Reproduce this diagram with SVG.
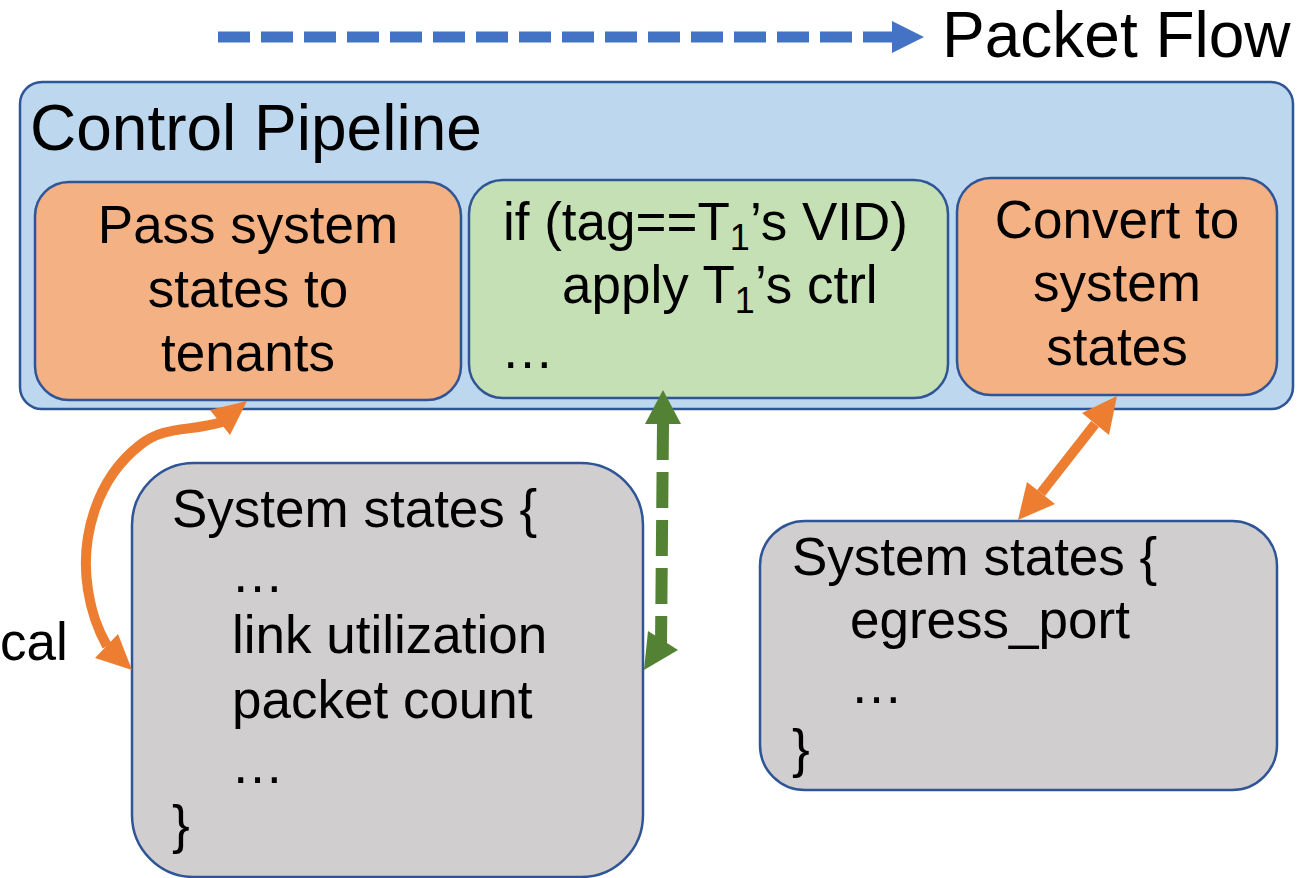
<svg xmlns="http://www.w3.org/2000/svg" width="1302" height="878" viewBox="0 0 1302 878">
<style>
  .box { stroke: #2F5597; stroke-width: 2.5; }
  .blue { fill: #BDD7EE; }
  .orange { fill: #F4B183; }
  .green { fill: #C5E0B4; }
  .gray { fill: #D0CECE; }
  text { font-family: "Liberation Sans", Arial, Helvetica, sans-serif; font-size: 53px; fill: #000; }
  .big { font-size: 64px; }
  .mid { text-anchor: middle; }
  .sub { font-size: 36px; }
</style>
<rect width="1302" height="878" fill="#FFFFFF"/>

<g id="legend">
  <line x1="218" y1="37" x2="894" y2="37" stroke="#4472C4" stroke-width="11" stroke-dasharray="32 11"/>
  <polygon points="892,21 924,37 892,53" fill="#4472C4"/>
  <text class="big" x="942" y="57">Packet Flow</text>
</g>

<g id="control-pipeline">
  <rect class="box blue" x="20" y="82" width="1273" height="327" rx="22"/>
  <text class="big" x="30" y="150">Control Pipeline</text>
</g>

<g id="pass-states">
  <rect class="box orange" x="35" y="182" width="426" height="218" rx="34"/>
  <text class="mid" x="248" y="243">Pass system</text>
  <text class="mid" x="248" y="307">states to</text>
  <text class="mid" x="248" y="371">tenants</text>
</g>

<g id="tenant-ctrl">
  <rect class="box green" x="469" y="180" width="479" height="218" rx="34"/>
  <text x="503" y="240">if (tag==T<tspan class="sub" dy="10">1</tspan><tspan dy="-10">’s VID)</tspan></text>
  <text x="562" y="303">apply T<tspan class="sub" dy="10">1</tspan><tspan dy="-10">’s ctrl</tspan></text>
  <text x="501" y="368">…</text>
</g>

<g id="convert-states">
  <rect class="box orange" x="957" y="178" width="320" height="217" rx="34"/>
  <text class="mid" x="1117" y="238">Convert to</text>
  <text class="mid" x="1117" y="301">system</text>
  <text class="mid" x="1117" y="365">states</text>
</g>

<g id="states-left">
  <rect class="box gray" x="132" y="463" width="511" height="414" rx="62"/>
  <text x="172" y="527">System states {</text>
  <text x="231" y="592">…</text>
  <text x="232" y="653">link utilization</text>
  <text x="232" y="718">packet count</text>
  <text x="231" y="783">…</text>
  <text x="172" y="843">}</text>
</g>

<g id="states-right">
  <rect class="box gray" x="760" y="521" width="517" height="269" rx="45"/>
  <text x="792" y="575">System states {</text>
  <text x="850" y="638">egress_port</text>
  <text x="850" y="703">…</text>
  <text x="792" y="767">}</text>
</g>

<g id="side-label">
  <text x="0" y="660">cal</text>
</g>

<g id="connectors">
  <path d="M 222,422 C 190,432 165,425 140,445 C 95,480 80,540 88,590 C 92,615 98,630 107,646" fill="none" stroke="#ED7D31" stroke-width="10"/>
  <polygon points="247,401 210,410 230,435" fill="#ED7D31"/>
  <polygon points="132,670 95,658 118,634" fill="#ED7D31"/>

  <line x1="663" y1="424" x2="661" y2="645" stroke="#548235" stroke-width="12" stroke-dasharray="36 12"/>
  <polygon points="663,390 645,424 681,424" fill="#548235"/>
  <polygon points="644,670 648,631 678,650" fill="#548235"/>

  <line x1="1095" y1="424" x2="1041" y2="493" stroke="#ED7D31" stroke-width="10"/>
  <polygon points="1117,396 1082,413 1109,435" fill="#ED7D31"/>
  <polygon points="1018,520 1027,482 1055,504" fill="#ED7D31"/>
</g>
</svg>
